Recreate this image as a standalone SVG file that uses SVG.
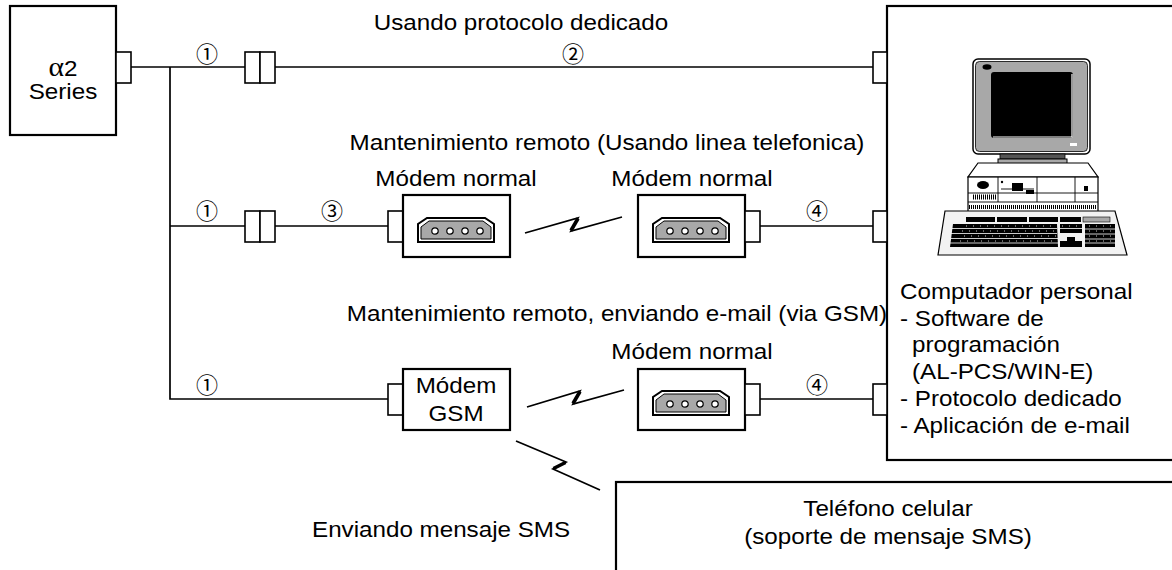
<svg xmlns="http://www.w3.org/2000/svg" width="1172" height="570" viewBox="0 0 1172 570">
  <style>
    .box { fill: #fff; stroke: #000; stroke-width: 2.2; }
    .stub { fill: #fff; stroke: #000; stroke-width: 1.6; }
    .wire { fill: none; stroke: #000; stroke-width: 1.7; }
    .bolt { fill: none; stroke: #000; stroke-width: 1.8; stroke-linejoin: miter; stroke-miterlimit: 10; }
    .zig { fill: none; stroke: #000; stroke-width: 3.6; stroke-linecap: butt; }
    .t { font-family: "Liberation Sans", Arial, Helvetica, sans-serif; font-size: 22px; fill: #000; }
    .num { font-family: "Noto Sans CJK JP", "DejaVu Sans", sans-serif; font-size: 22px; fill: #000; text-anchor: middle; dominant-baseline: central; }
    .mid { text-anchor: middle; }
  </style>
  <defs>
    <!-- modem front: phone socket with four pins, centred on 0,0 -->
    <g id="socket">
      <path d="M-38,16 L-38,-2 L-29,-8 L29,-8 L38,-2 L38,16 Z" fill="#fff" stroke="#000" stroke-width="2"/>
      <path d="M-35,13 L-35,1 L-27,-5 L27,-5 L35,1 L35,13 Z" fill="#a8a8a8" stroke="#000" stroke-width="1"/>
      <circle cx="-21" cy="5" r="3.2" fill="#fff" stroke="#000" stroke-width="1.2"/>
      <circle cx="-6" cy="5" r="3.2" fill="#fff" stroke="#000" stroke-width="1.2"/>
      <circle cx="9" cy="5" r="3.2" fill="#fff" stroke="#000" stroke-width="1.2"/>
      <circle cx="24" cy="5" r="3.2" fill="#fff" stroke="#000" stroke-width="1.2"/>
    </g>
    <!-- double coupler block -->
    <g id="coupler">
      <rect x="0" y="0" width="15" height="31" class="stub"/>
      <rect x="15" y="0" width="15" height="31" class="stub"/>
    </g>
  </defs>

  <!-- connectors -->
  <g id="connectors">
    <!-- main bus and branches -->
    <polyline class="wire" points="131,67 245,67"/>
    <polyline class="wire" points="275,67 873,67"/>
    <polyline class="wire" points="170,67 170,399 388,399"/>
    <polyline class="wire" points="170,226 245,226"/>
    <polyline class="wire" points="275,226 388,226"/>
    <polyline class="wire" points="759,226 873,226"/>
    <polyline class="wire" points="759,399 873,399"/>
    <!-- radio links -->
    <polyline class="bolt" points="525,233 578,218 571,231 622,217"/>
    <line class="zig" x1="578" y1="218.5" x2="571" y2="230.5"/>
    <polyline class="bolt" points="527,407 580,391 573,404 624,390"/>
    <line class="zig" x1="580" y1="391.5" x2="573" y2="403.5"/>
    <polyline class="bolt" points="516,441 566,462 553,469 600,490"/>
    <line class="zig" x1="565.5" y1="462.5" x2="553.5" y2="468.5"/>
    <!-- cable numbers -->
    <text class="num" x="207" y="52">①</text>
    <text class="num" x="573" y="52">②</text>
    <text class="num" x="207" y="209">①</text>
    <text class="num" x="332" y="209">③</text>
    <text class="num" x="817" y="209">④</text>
    <text class="num" x="207" y="383">①</text>
    <text class="num" x="817" y="383">④</text>
  </g>

  <!-- route titles -->
  <g id="titles">
    <text class="t mid" transform="translate(521,30) scale(1.1,1)">Usando protocolo dedicado</text>
    <text class="t mid" transform="translate(607,150) scale(1.1,1)">Mantenimiento remoto (Usando linea telefonica)</text>
    <text class="t mid" transform="translate(617,321) scale(1.1,1)">Mantenimiento remoto, enviando e-mail (via GSM)</text>
    <text class="t" transform="translate(312,537) scale(1.1,1)">Enviando mensaje SMS</text>
  </g>

  <!-- alpha2 controller -->
  <g id="alpha2">
    <rect x="10" y="6" width="106" height="129" class="box"/>
    <rect x="116" y="52" width="15" height="31" class="stub"/>
    <text class="t mid" transform="translate(63,76) scale(1.1,1)"><tspan font-family="Liberation Serif, serif" font-size="27px">α</tspan>2</text>
    <text class="t mid" transform="translate(63,99) scale(1.1,1)">Series</text>
  </g>

  <g id="coupler-1"><use href="#coupler" x="245" y="52"/></g>
  <g id="coupler-2"><use href="#coupler" x="245" y="211"/></g>

  <!-- line modem, local side -->
  <g id="modem-local">
    <text class="t mid" transform="translate(456,186) scale(1.1,1)">Módem normal</text>
    <rect x="388" y="211" width="15" height="31" class="stub"/>
    <rect x="403" y="195" width="107" height="62" class="box"/>
    <use href="#socket" x="456" y="226"/>
  </g>

  <!-- line modem, PC side -->
  <g id="modem-remote">
    <text class="t mid" transform="translate(692,186) scale(1.1,1)">Módem normal</text>
    <rect x="638" y="195" width="107" height="62" class="box"/>
    <rect x="745" y="211" width="15" height="31" class="stub"/>
    <use href="#socket" x="691" y="226"/>
  </g>

  <!-- GSM modem -->
  <g id="modem-gsm">
    <rect x="388" y="384" width="15" height="31" class="stub"/>
    <rect x="403" y="369" width="107" height="61" class="box"/>
    <text class="t mid" transform="translate(456,393) scale(1.1,1)">Módem</text>
    <text class="t mid" transform="translate(456,421) scale(1.1,1)">GSM</text>
  </g>

  <!-- line modem receiving the GSM call -->
  <g id="modem-gsm-remote">
    <text class="t mid" transform="translate(692,359) scale(1.1,1)">Módem normal</text>
    <rect x="638" y="369" width="107" height="61" class="box"/>
    <rect x="745" y="384" width="15" height="31" class="stub"/>
    <use href="#socket" x="691" y="399"/>
  </g>

  <!-- personal computer -->
  <g id="pc">
    <rect x="887" y="6" width="300" height="454" class="box"/>
    <rect x="873" y="52" width="14" height="31" class="stub"/>
    <rect x="873" y="211" width="14" height="31" class="stub"/>
    <rect x="873" y="384" width="14" height="31" class="stub"/>

    <!-- monitor -->
    <rect x="973" y="59" width="117" height="95" rx="5" fill="#fff" stroke="#000" stroke-width="1.5"/>
    <rect x="975.5" y="61.5" width="112" height="90" rx="4" fill="#a8a8a8" stroke="#000" stroke-width="0.8"/>
    <rect x="991" y="72" width="82" height="66" rx="3" fill="#000"/>
    <path d="M1072,74 L1072,137 L993,137" fill="none" stroke="#fff" stroke-width="1.2"/>
    <ellipse cx="987" cy="67" rx="4.5" ry="2.8" fill="#000"/>
    <rect x="1070" y="143" width="7" height="3" fill="#fff"/>
    <!-- stand -->
    <rect x="1000" y="154" width="65" height="5" fill="#555" stroke="#000" stroke-width="0.8"/>
    <rect x="998" y="159" width="69" height="12" fill="#a8a8a8" stroke="#000" stroke-width="1"/>
    <!-- system unit -->
    <polygon points="978,163 1088,163 1098,177 968,177" fill="#fff" stroke="#000" stroke-width="1.2"/>
    <rect x="968" y="177" width="130" height="35" fill="#fff" stroke="#000" stroke-width="1.2"/>
    <line x1="968" y1="193" x2="1098" y2="193" stroke="#000" stroke-width="0.9"/>
    <line x1="968" y1="202" x2="1098" y2="202" stroke="#000" stroke-width="0.9"/>
    <line x1="998" y1="177" x2="998" y2="202" stroke="#000" stroke-width="0.9"/>
    <line x1="1037" y1="177" x2="1037" y2="202" stroke="#000" stroke-width="0.9"/>
    <line x1="1075" y1="177" x2="1075" y2="202" stroke="#000" stroke-width="0.9"/>
    <ellipse cx="983" cy="185" rx="6" ry="4" fill="#000"/>
    <line x1="973" y1="197" x2="996" y2="197" stroke="#000" stroke-width="5" stroke-dasharray="1 1"/>
    <circle cx="1002" cy="182" r="1.2" fill="#000"/>
    <line x1="1001" y1="189" x2="1034" y2="189" stroke="#000" stroke-width="0.9"/>
    <rect x="1012" y="183" width="11" height="8" fill="#000"/>
    <rect x="1026" y="190" width="8" height="4" fill="#000"/>
    <rect x="1084" y="186" width="4" height="5" fill="#000"/>
    <line x1="969" y1="207" x2="1097" y2="207" stroke="#000" stroke-width="4" stroke-dasharray="1 1"/>
    <!-- keyboard -->
    <polygon points="945,211 1115,211 1127,255 938,255" fill="#f2f2f2" stroke="#000" stroke-width="1.2"/>
    <rect x="966" y="217" width="29" height="5" fill="#000"/>
    <rect x="997" y="217" width="30" height="5" fill="#000"/>
    <rect x="1029" y="217" width="29" height="5" fill="#000"/>
    <rect x="1060" y="217" width="21" height="5" fill="#000"/>
    <rect x="1083" y="217" width="27" height="5" fill="#a8a8a8" stroke="#000" stroke-width="0.6"/>
    <polygon points="953,224 1057,224 1058,247 950,247" fill="#000"/>
    <rect x="1060" y="224" width="22" height="9" fill="#000"/>
    <polygon points="1067,237 1075,237 1075,241 1082,241 1082,247 1060,247 1060,241 1067,241" fill="#000"/>
    <rect x="1085" y="224" width="30" height="23" fill="#000"/>
    <g stroke="#fff" stroke-width="0.8">
      <line x1="952" y1="228.5" x2="1057" y2="228.5"/>
      <line x1="951" y1="233.5" x2="1057" y2="233.5"/>
      <line x1="951" y1="238.5" x2="1058" y2="238.5"/>
      <line x1="950" y1="243" x2="1058" y2="243"/>
      <line x1="1060" y1="228.5" x2="1082" y2="228.5"/>
      <line x1="1085" y1="229" x2="1115" y2="229"/>
      <line x1="1085" y1="234" x2="1115" y2="234"/>
      <line x1="1085" y1="239" x2="1115" y2="239"/>
      <line x1="1085" y1="243" x2="1115" y2="243"/>
    </g>
    <g stroke="#fff" stroke-width="0.8" stroke-dasharray="1 6">
      <line x1="966" y1="226" x2="1057" y2="226"/>
      <line x1="962" y1="231" x2="1057" y2="231"/>
      <line x1="964" y1="236" x2="1057" y2="236"/>
      <line x1="960" y1="241" x2="1057" y2="241"/>
      <line x1="1062" y1="226" x2="1082" y2="226"/>
      <line x1="1089" y1="226" x2="1115" y2="226"/>
      <line x1="1089" y1="231" x2="1115" y2="231"/>
      <line x1="1089" y1="236" x2="1115" y2="236"/>
      <line x1="1089" y1="241" x2="1115" y2="241"/>
    </g>

    <text class="t" transform="translate(900,299) scale(1.1,1)">Computador personal</text>
    <text class="t" transform="translate(900,326) scale(1.1,1)">- Software de</text>
    <text class="t" transform="translate(912,352) scale(1.1,1)">programación</text>
    <text class="t" transform="translate(912,379) scale(1.1,1)">(AL-PCS/WIN-E)</text>
    <text class="t" transform="translate(900,406) scale(1.1,1)">- Protocolo dedicado</text>
    <text class="t" transform="translate(900,433) scale(1.1,1)">- Aplicación de e-mail</text>
  </g>

  <!-- mobile phone -->
  <g id="phone">
    <rect x="616" y="482" width="580" height="120" class="box"/>
    <text class="t mid" transform="translate(888,516) scale(1.1,1)">Teléfono celular</text>
    <text class="t mid" transform="translate(888,544) scale(1.1,1)">(soporte de mensaje SMS)</text>
  </g>
</svg>
